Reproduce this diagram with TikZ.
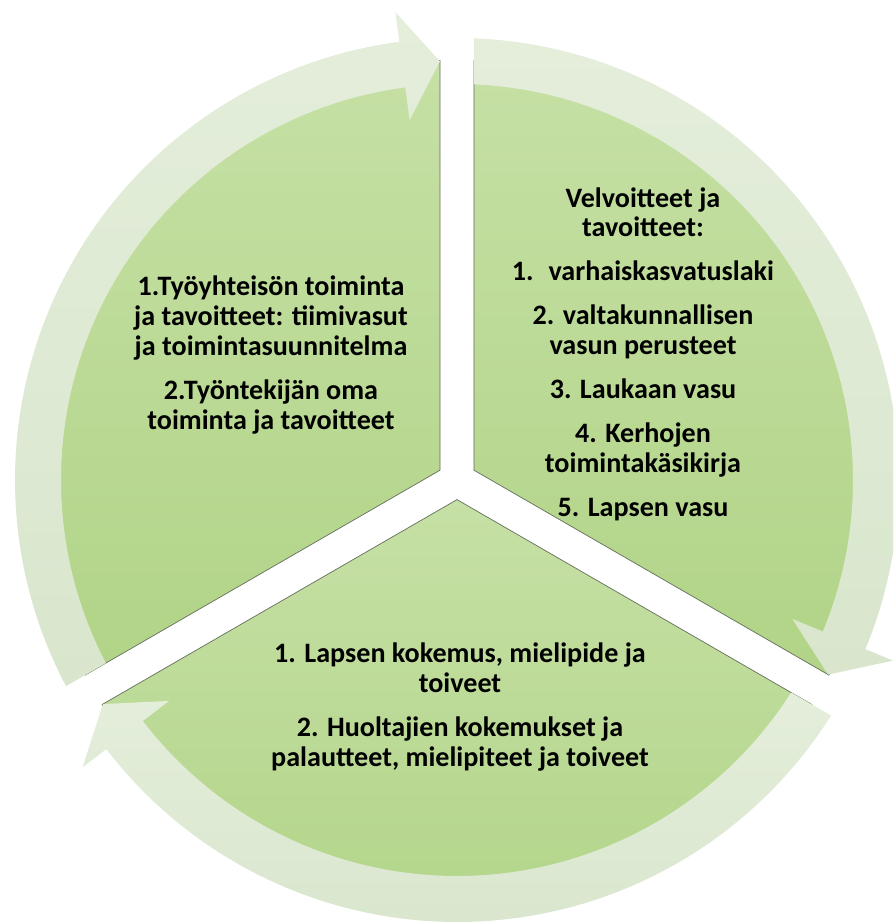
\documentclass[tikz,border=0pt]{standalone}
\usepackage{fontspec}
\setmainfont{Carlito}
\usepackage{tikz}
\usetikzlibrary{calc}
\definecolor{segtop}{RGB}{198,224,165}
\definecolor{segbot}{RGB}{177,212,135}
\definecolor{ringtop}{RGB}{228,238,219}
\definecolor{ringbot}{RGB}{217,230,205}
\definecolor{segedge}{RGB}{100,110,92}

\begin{document}
\begin{tikzpicture}[x=0.02cm, y=0.02cm,
				segment/.style={top color=segtop, bottom color=segbot, draw=segedge, line width=0.4pt},
				ringarrow/.style={top color=ringtop, bottom color=ringbot},
				itemtext/.style={font=\fontsize{16}{17}\selectfont\bfseries, text=black, inner sep=0pt},
				every text node part/.style={align=center}]
				\useasboundingbox (-457,-443) rectangle (436,480);
				\clip (-457,-443) rectangle (436,480);
				
				\foreach \b in {30,150,270}{
					\shadedraw[segment] (\b:19.6) -- (\b+57.68:420) arc[start angle=\b+57.68, end angle=\b-57.68, radius=420] -- cycle;
				}
				\foreach \b in {30,150,270}{
					\shade[ringarrow] (\b+57.54:396) arc[start angle=\b+57.54, end angle=\b-52.5, radius=396] -- (\b-52.5:363) -- (\b-57.67:419) -- (\b-52.5:472) -- (\b-52.5:442) arc[start angle=\b-52.5, end angle=\b+57.8, radius=442] -- cycle;
				}
				
				\node[itemtext](node1) at (-186, 125) {1.Työyhteisön toiminta\\ja tavoitteet: tiimivasut\\ja toimintasuunnitelma\\[8pt]2.Työntekijän oma\\toiminta ja tavoitteet};
				\node[itemtext](node2) at (186, 126) {Velvoitteet ja\\tavoitteet:\\[8pt]1.~ varhaiskasvatuslaki\\[8pt]2. valtakunnallisen\\vasun perusteet\\[8pt]3. Laukaan vasu\\[8pt]4. Kerhojen\\toimintakäsikirja\\[8pt]5. Lapsen vasu};
				\node[itemtext](node3) at (3, -227) {1. Lapsen kokemus, mielipide ja\\toiveet\\[8pt]2. Huoltajien kokemukset ja\\palautteet, mielipiteet ja toiveet};
			\end{tikzpicture}
\end{document}
